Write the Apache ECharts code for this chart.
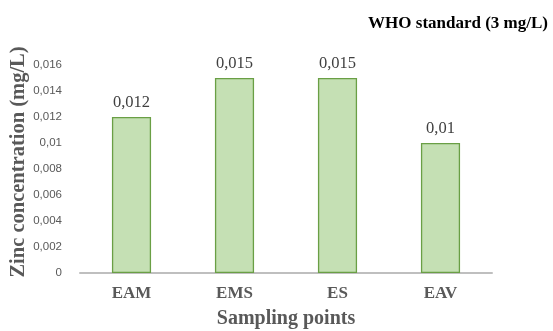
<!DOCTYPE html>
<html><head><meta charset="utf-8">
<script src="https://cdn.jsdelivr.net/npm/echarts@6/dist/echarts.min.js"></script>
<style>html,body{margin:0;padding:0;background:#fff}#c{width:553px;height:331px}</style>
</head><body><div id="c"></div>
<script>
const categories = ['EAM', 'EMS', 'ES', 'EAV'];
const values = [0.012, 0.015, 0.015, 0.01];
const yMin = 0, yMax = 0.016, yStep = 0.002;
const titleText = 'WHO standard (3 mg/L)';
const xName = 'Sampling points';
const yName = 'Zinc concentration (mg/L)';

const fmt = v => String(+v.toFixed(4)).replace('.', ',');
const chart = echarts.init(document.getElementById('c'), null, {renderer: 'canvas'});
chart.setOption({
  animation: false,
  title: {text: titleText, right: 0, top: 10,
    textStyle: {fontFamily: 'Liberation Serif', fontWeight: 'bold', fontSize: 17, color: '#000'}},
  grid: {left: 80, right: 61, top: 65, bottom: 58, containLabel: false, outerBoundsMode: 'none'},
  xAxis: {
    type: 'category', data: categories,
    name: xName, nameLocation: 'middle', nameGap: 36, nameMoveOverlap: false,
    nameTextStyle: {fontFamily: 'Liberation Serif', fontWeight: 'bold', fontSize: 20, color: '#595959'},
    axisLine: {lineStyle: {color: '#bfbfbf', width: 2}},
    axisTick: {show: false},
    axisLabel: {fontFamily: 'Liberation Serif', fontWeight: 'bold', fontSize: 17, color: '#595959', margin: 12}
  },
  yAxis: {
    type: 'value', min: yMin, max: yMax, interval: yStep,
    name: yName, nameLocation: 'middle', nameGap: 51, nameRotate: 90, nameMoveOverlap: false,
    nameTextStyle: {fontFamily: 'Liberation Serif', fontWeight: 'bold', fontSize: 20.5, color: '#595959', padding: [0, 0, 0, 14]},
    axisLine: {show: false}, axisTick: {show: false}, splitLine: {show: false},
    axisLabel: {formatter: fmt, fontFamily: 'Liberation Sans', fontSize: 11.5, color: '#595959', margin: 18}
  },
  series: [{
    type: 'bar', data: values, barWidth: '38%',
    itemStyle: {color: '#c5e0b4', borderColor: '#6a9f45', borderWidth: 1.3},
    label: {show: true, position: 'top', distance: 6, formatter: p => fmt(p.value),
      fontFamily: 'Liberation Serif', fontSize: 16.5, color: '#404040'}
  }]
});
</script></body></html>
